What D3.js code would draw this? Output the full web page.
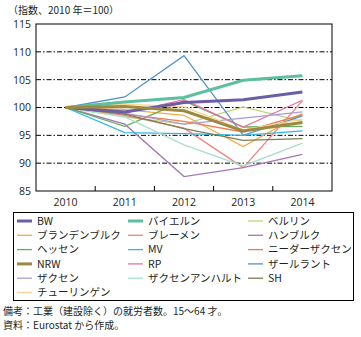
<!DOCTYPE html>
<html>
<head>
<meta charset="utf-8">
<script src="https://cdn.jsdelivr.net/npm/d3@7"></script>
<style>
  body { margin: 0; background: #fff; }
  svg { display: block; font-family: "Noto Sans CJK JP", "Noto Sans", sans-serif; }
</style>
</head>
<body>
<svg width="361" height="337"></svg>
<script>
// ---- DATA ----
const years = ["2010", "2011", "2012", "2013", "2014"];
const yTicks = [85, 90, 95, 100, 105, 110, 115];

const regions = [
  "BW", "バイエルン", "ベルリン",
  "ブランデンブルク", "ブレーメン", "ハンブルク",
  "ヘッセン", "MV", "ニーダーザクセン",
  "NRW", "RP", "ザールラント",
  "ザクセン", "ザクセンアンハルト", "SH",
  "チューリンゲン"
];

const bw            = [100, 99.2, 100.9, 101.4, 102.8];
const bayern        = [100, 101.0, 101.8, 104.9, 105.7];
const berlin        = [100, 98.3, 97.0, 100.1, 97.5];
const brandenburg   = [100, 99.6, 98.6, 93.0, 98.9];
const bremen        = [100, 98.6, 96.3, 89.2, 101.2];
const hamburg       = [100, 97.0, 87.6, 89.2, 91.6];
const hessen        = [100, 96.6, 101.2, 96.5, 96.6];
const mv            = [100, 95.5, 95.3, 95.0, 95.8];
const niedersachsen = [100, 98.8, 97.5, 95.6, 98.7];
const nrw           = [100, 100.2, 99.4, 95.8, 97.3];
const rp            = [100, 99.0, 101.4, 96.5, 101.3];
const saarland      = [100, 101.9, 109.3, 95.0, 98.5];
const sachsen       = [100, 99.0, 97.0, 98.1, 99.2];
const sachsenAnhalt = [100, 98.3, 93.3, 89.5, 93.6];
const sh            = [100, 98.8, 96.2, 94.1, 94.4];
const thueringen    = [100, 100.6, 100.1, 96.0, 97.9];

const values = [
  bw, bayern, berlin, brandenburg, bremen, hamburg, hessen, mv,
  niedersachsen, nrw, rp, saarland, sachsen, sachsenAnhalt, sh, thueringen
];

const colors = [
  "#6a5ea8", "#5cbf9f", "#bcd873",
  "#f6a844", "#f0837a", "#a575b7",
  "#62b15a", "#2fb6ea", "#f07c4b",
  "#9b8a3f", "#ec70a2", "#4f93cc",
  "#aa9cd4", "#acdcd2", "#7e7c52",
  "#f9d493"
];
const thick = new Set(["BW", "バイエルン", "NRW"]);

// ---- LAYOUT ----
const svg = d3.select("svg");
const plot = { left: 36, right: 332, top: 24, bottom: 191 };

const x = d3.scaleBand().domain(years).range([plot.left, plot.right]);
const y = d3.scaleLinear().domain([85, 115]).range([plot.bottom, plot.top]);

// title
svg.append("text")
  .attr("x", 8).attr("y", 14)
  .attr("font-size", 10).attr("fill", "#231f20")
  .text("（指数、2010 年＝100）");

// dash-dot grid
svg.append("g")
  .selectAll("line")
  .data(yTicks.filter(d => d > 85 && d < 115))
  .join("line")
  .attr("x1", plot.left).attr("x2", plot.right)
  .attr("y1", d => y(d)).attr("y2", d => y(d))
  .attr("stroke", "#000").attr("stroke-width", 1)
  .attr("stroke-dasharray", "5,2,1.5,2");

// frame
svg.append("rect")
  .attr("x", plot.left).attr("y", plot.top)
  .attr("width", plot.right - plot.left).attr("height", plot.bottom - plot.top)
  .attr("fill", "none").attr("stroke", "#000").attr("stroke-width", 1);

// y axis
const yAxis = svg.append("g")
  .attr("transform", `translate(${plot.left},0)`)
  .call(d3.axisLeft(y).tickValues(yTicks).tickSize(0).tickPadding(5));
yAxis.select(".domain").remove();
yAxis.selectAll("text")
  .attr("font-size", 10.5).attr("fill", "#231f20")
  .attr("font-family", "'Open Sans', sans-serif");

// x axis: labels under each band, ticks between bands
const xAxis = svg.append("g")
  .attr("transform", `translate(0,${plot.bottom})`)
  .call(d3.axisBottom(x).tickSize(0).tickPadding(8));
xAxis.select(".domain").remove();
xAxis.selectAll("text")
  .attr("font-size", 10.5).attr("fill", "#231f20")
  .attr("font-family", "'Open Sans', sans-serif");

svg.append("g")
  .selectAll("line")
  .data(years.slice(1))
  .join("line")
  .attr("x1", d => x(d)).attr("x2", d => x(d))
  .attr("y1", plot.bottom).attr("y2", plot.bottom - 5)
  .attr("stroke", "#000");

// ---- LINES ----
const line = d3.line()
  .x((d, i) => x(years[i]) + x.bandwidth() / 2)
  .y(d => y(d));

const order = d3.range(regions.length).filter(i => !thick.has(regions[i]))
  .concat(d3.range(regions.length).filter(i => thick.has(regions[i])));

svg.append("g")
  .selectAll("path")
  .data(order)
  .join("path")
  .attr("d", i => line(values[i]))
  .attr("fill", "none")
  .attr("stroke", i => colors[i])
  .attr("stroke-width", i => thick.has(regions[i]) ? 3 : 1.3)
  .attr("stroke-linejoin", "miter");

// ---- LEGEND ----
svg.append("rect")
  .attr("x", 13.5).attr("y", 212.5)
  .attr("width", 340).attr("height", 88)
  .attr("fill", "none").attr("stroke", "#000").attr("stroke-width", 1);

const colX = [17, 128, 248];
const legend = svg.append("g")
  .selectAll("g")
  .data(regions)
  .join("g")
  .attr("transform", (d, i) => `translate(${colX[i % 3]},${221 + Math.floor(i / 3) * 14.3})`);

legend.append("line")
  .attr("x1", 0).attr("x2", 15)
  .attr("stroke", (d, i) => colors[i])
  .attr("stroke-width", d => thick.has(d) ? 3 : 1.3);

legend.append("text")
  .attr("x", 20).attr("dy", "0.35em")
  .attr("font-size", 10.5).attr("fill", "#231f20")
  .text(d => d);

// ---- NOTES ----
svg.append("text")
  .attr("x", 3).attr("y", 315)
  .attr("font-size", 10).attr("fill", "#231f20")
  .text("備考：工業（建設除く）の就労者数。15～64 才。");
svg.append("text")
  .attr("x", 3).attr("y", 329)
  .attr("font-size", 10).attr("fill", "#231f20")
  .text("資料：Eurostat から作成。");
</script>
</body>
</html>
